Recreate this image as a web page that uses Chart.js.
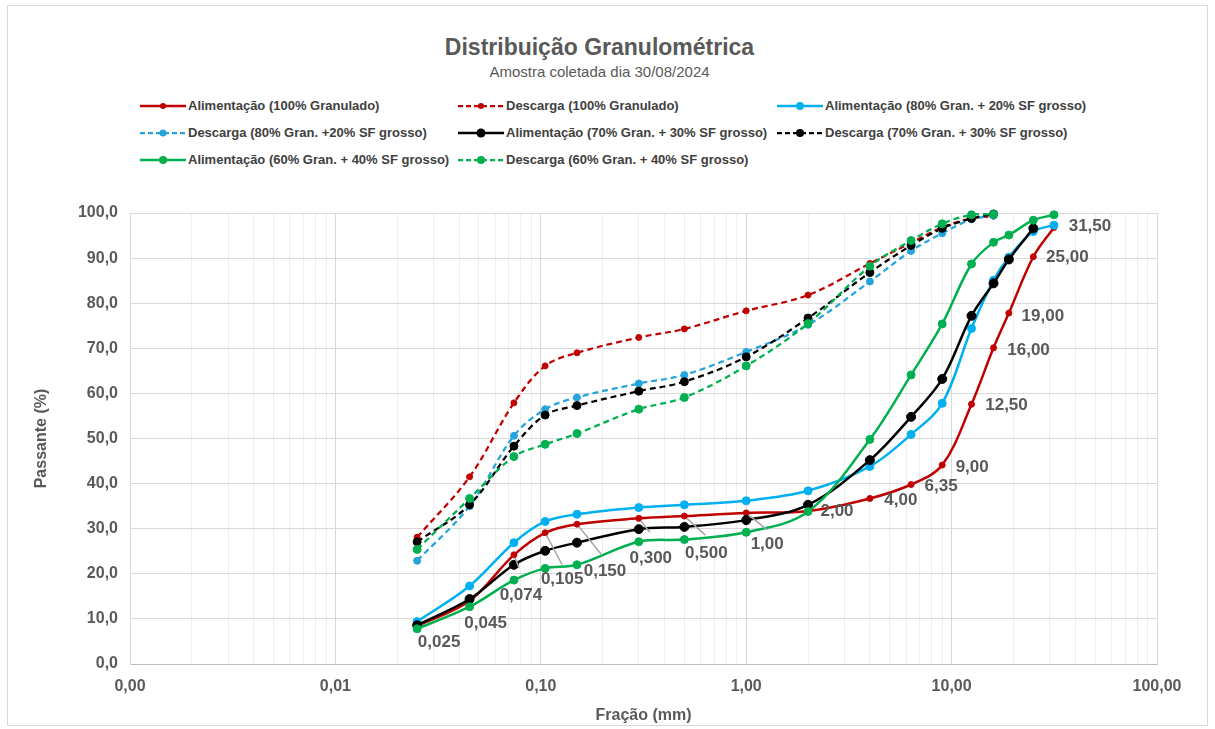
<!DOCTYPE html>
<html>
<head>
<meta charset="utf-8">
<script src="https://cdn.jsdelivr.net/npm/chart.js@4.4.1/dist/chart.umd.min.js"></script>
<style>
  body { margin: 0; background: #fff; font-family: "Liberation Sans", Arial, sans-serif; }
  #wrap { position: relative; width: 1215px; height: 729px; overflow: hidden; }
  #frame { position: absolute; left: 7px; top: 5px; width: 1201px; height: 721px; border: 1px solid #d9d9d9; box-sizing: border-box; }
  #title { position: absolute; left: 0; width: 1199px; top: 34px; line-height: 26px; text-align: center; font-weight: bold; font-size: 23px; color: #595959; }
  #subtitle { position: absolute; left: 0; width: 1199px; top: 63px; line-height: 18px; text-align: center; font-size: 15px; color: #595959; }
  .leg { position: absolute; height: 18px; line-height: 18px; white-space: nowrap; font-size: 13px; font-weight: bold; color: #404040; }
  .leg svg { position: absolute; left: 0; top: 3px; }
  .leg span { position: absolute; left: 48px; top: 0; }
  #chart { position: absolute; left: 0; top: 0; }
</style>
</head>
<body>
<div id="wrap">
  <div id="frame"></div>
  <div id="title">Distribuição Granulométrica</div>
  <div id="subtitle">Amostra coletada dia 30/08/2024</div>
  <div id="legend"></div>
  <canvas id="chart" width="1215" height="729"></canvas>
</div>
<script>
// sieve openings (mm) and their labels
const sieves = [0.025, 0.045, 0.074, 0.105, 0.150, 0.300, 0.500, 1.00, 2.00, 4.00, 6.35, 9.00, 12.50, 16.00, 19.00, 25.00, 31.50];
const sieveLabels = ['0,025', '0,045', '0,074', '0,105', '0,150', '0,300', '0,500', '1,00', '2,00', '4,00', '6,35', '9,00', '12,50', '16,00', '19,00', '25,00', '31,50'];

// % passing
const alim100 = [8.4, 14.0, 24.2, 29.1, 31.0, 32.3, 32.8, 33.5, 33.9, 36.7, 39.8, 44.1, 57.6, 70.1, 77.8, 90.3, 96.8];
const desc100 = [28.1, 41.5, 57.9, 66.1, 69.0, 72.4, 74.3, 78.3, 81.8, 88.8, 93.4, 96.8, 98.8, 99.3, null, null, null];
const alim80 = [9.4, 17.3, 26.9, 31.6, 33.2, 34.7, 35.3, 36.2, 38.4, 43.8, 50.9, 57.8, 74.4, 85.1, 90.2, 95.9, 97.3];
const desc80 = [22.9, 35.0, 50.6, 56.5, 59.1, 62.2, 64.1, 69.2, 75.2, 84.8, 91.6, 95.5, 98.6, 99.4, null, null, null];
const alim70 = [8.6, 14.4, 22.0, 25.1, 26.9, 29.9, 30.4, 31.9, 35.3, 45.2, 54.8, 63.2, 77.2, 84.4, 89.7, 96.6, null];
const desc70 = [27.1, 35.3, 48.3, 55.2, 57.3, 60.5, 62.6, 68.1, 76.7, 86.8, 92.8, 96.6, 98.8, 99.8, null, null, null];
const alim60 = [7.8, 12.7, 18.6, 21.2, 22.0, 27.1, 27.6, 29.2, 33.8, 49.8, 64.1, 75.4, 88.7, 93.5, 95.1, 98.4, 99.6];
const desc60 = [25.4, 36.7, 46.0, 48.7, 51.1, 56.5, 59.1, 66.1, 75.5, 88.2, 93.9, 97.6, 99.6, 99.7, null, null, null];

const seriesNames = [
  'Alimentação (100% Granulado)',
  'Descarga (100% Granulado)',
  'Alimentação (80% Gran. + 20% SF grosso)',
  'Descarga (80% Gran. +20% SF grosso)',
  'Alimentação (70% Gran. + 30% SF grosso)',
  'Descarga (70% Gran. + 30% SF grosso)',
  'Alimentação (60% Gran. + 40% SF grosso)',
  'Descarga (60% Gran. + 40% SF grosso)'
];
const seriesValues = [alim100, desc100, alim80, desc80, alim70, desc70, alim60, desc60];

// axis ticks
const xTickValues = [0.001, 0.01, 0.1, 1, 10, 100];
const xTickLabels = ['0,00', '0,01', '0,10', '1,00', '10,00', '100,00'];
const yTickLabels = ['0,0', '10,0', '20,0', '30,0', '40,0', '50,0', '60,0', '70,0', '80,0', '90,0', '100,0'];

// styling per series
const styles = [
  { color: '#C00000', dash: [], r: 3 },
  { color: '#C00000', dash: [6, 4], r: 3 },
  { color: '#00B0F0', dash: [], r: 4 },
  { color: '#26A4DC', dash: [6, 4], r: 3.5 },
  { color: '#000000', dash: [], r: 4.5 },
  { color: '#000000', dash: [6, 4], r: 4 },
  { color: '#00B050', dash: [], r: 4 },
  { color: '#00B050', dash: [6, 4], r: 4 }
];

// sieve label placement relative to the 100% feed points (px)
const labelOffsets = [[22, 16], [16, 22], [7, 40], [17, 47], [28, 47], [12, 40], [22, 37], [21, 31], [29, 0], [31, 2], [30, 2], [30, 2], [35, 1], [35, 2], [34, 3], [34, 1], [36, -1]];
const leaderEnds = { 2: [5, 13], 3: [17, 32], 4: [25, 31], 5: [11, 14], 6: [21, 19], 7: [21, 17] };

Chart.defaults.font.family = "'Liberation Sans', Arial, sans-serif";

const datasets = seriesValues.map((vals, i) => ({
  label: seriesNames[i],
  data: sieves.map((s, k) => ({ x: s, y: vals[k] })).filter(p => p.y !== null),
  borderColor: styles[i].color,
  backgroundColor: styles[i].color,
  pointBackgroundColor: styles[i].color,
  pointBorderColor: styles[i].color,
  pointBorderWidth: 1,
  pointRadius: styles[i].r,
  borderWidth: styles[i].dash.length ? 2.25 : 2.5,
  borderDash: styles[i].dash,
  tension: 0.35,
  clip: false,
  order: 7 - i
}));

const sieveLabelPlugin = {
  id: 'sieveLabels',
  afterDatasetsDraw(chart) {
    const ctx = chart.ctx;
    const pts = chart.getDatasetMeta(0).data;
    ctx.save();
    ctx.strokeStyle = '#a6a6a6';
    ctx.lineWidth = 1.5;
    Object.keys(leaderEnds).forEach(k => {
      const p = pts[k];
      const e = leaderEnds[k];
      const len = Math.hypot(e[0], e[1]);
      ctx.beginPath();
      ctx.moveTo(p.x + e[0] / len * 3, p.y + e[1] / len * 3);
      ctx.lineTo(p.x + e[0], p.y + e[1]);
      ctx.stroke();
    });
    ctx.fillStyle = '#595959';
    ctx.font = "bold 17px 'Liberation Sans', Arial, sans-serif";
    ctx.textAlign = 'center';
    ctx.textBaseline = 'middle';
    sieveLabels.forEach((t, i) => {
      const p = pts[i];
      ctx.fillText(t, p.x + labelOffsets[i][0], p.y + labelOffsets[i][1]);
    });
    ctx.restore();
  }
};

const isDecade = v => xTickValues.some(d => Math.abs(Math.log10(v) - Math.log10(d)) < 1e-6);

new Chart(document.getElementById('chart'), {
  type: 'line',
  data: { datasets },
  options: {
    responsive: false,
    animation: false,
    devicePixelRatio: 1,
    layout: { padding: { left: 28, right: 58, top: 213, bottom: 0 } },
    plugins: { legend: { display: false }, tooltip: { enabled: false } },
    scales: {
      x: {
        type: 'logarithmic',
        min: 0.001,
        max: 100,
        afterBuildTicks: s => {
          const t = [];
          for (let e = -3; e <= 2; e++) {
            for (let m = 1; m <= 9; m++) {
              const v = +(m * Math.pow(10, e)).toPrecision(3);
              if (v <= 100) t.push({ value: v });
            }
          }
          s.ticks = t;
        },
        afterFit: s => { s.height = 65; },
        ticks: {
          autoSkip: false,
          maxRotation: 0,
          padding: 13,
          color: '#595959',
          font: { size: 16, weight: 'bold' },
          callback: v => {
            const k = xTickValues.findIndex(d => Math.abs(Math.log10(v) - Math.log10(d)) < 1e-6);
            return k >= 0 ? xTickLabels[k] : '';
          }
        },
        grid: {
          drawTicks: false,
          color: c => (c.tick && isDecade(c.tick.value)) ? '#d9d9d9' : '#eeeeee',
          lineWidth: 1
        },
        border: { color: '#bfbfbf' },
        title: { display: true, text: 'Fração (mm)', color: '#595959', font: { size: 16, weight: 'bold' } }
      },
      y: {
        min: 0,
        max: 100,
        afterFit: s => { s.width = 102; },
        ticks: {
          stepSize: 10,
          padding: 12,
          color: '#595959',
          font: { size: 16, weight: 'bold' },
          callback: (v, i) => yTickLabels[i]
        },
        grid: { drawTicks: false, color: '#d9d9d9' },
        border: { color: '#d9d9d9' },
        title: { display: true, text: 'Passante (%)', color: '#595959', font: { size: 16, weight: 'bold' } }
      }
    }
  },
  plugins: [sieveLabelPlugin]
});

// legend built from the series styles
const legendXs = [140, 458, 777];
const legendYs = [106, 133, 160];
const legend = document.getElementById('legend');
seriesNames.forEach((name, i) => {
  const st = styles[i];
  const div = document.createElement('div');
  div.className = 'leg';
  div.style.left = legendXs[i % 3] + 'px';
  div.style.top = (legendYs[Math.floor(i / 3)] - 9) + 'px';
  const dash = st.dash.length ? ' stroke-dasharray="5 3"' : '';
  div.innerHTML = '<svg width="46" height="12"><line x1="0" y1="6" x2="46" y2="6" stroke="' + st.color +
    '" stroke-width="' + (st.dash.length ? 2.25 : 2.5) + '"' + dash + '/><circle cx="23" cy="6" r="' + st.r +
    '" fill="' + st.color + '"/></svg><span>' + name + '</span>';
  legend.appendChild(div);
});
</script>
</body>
</html>
